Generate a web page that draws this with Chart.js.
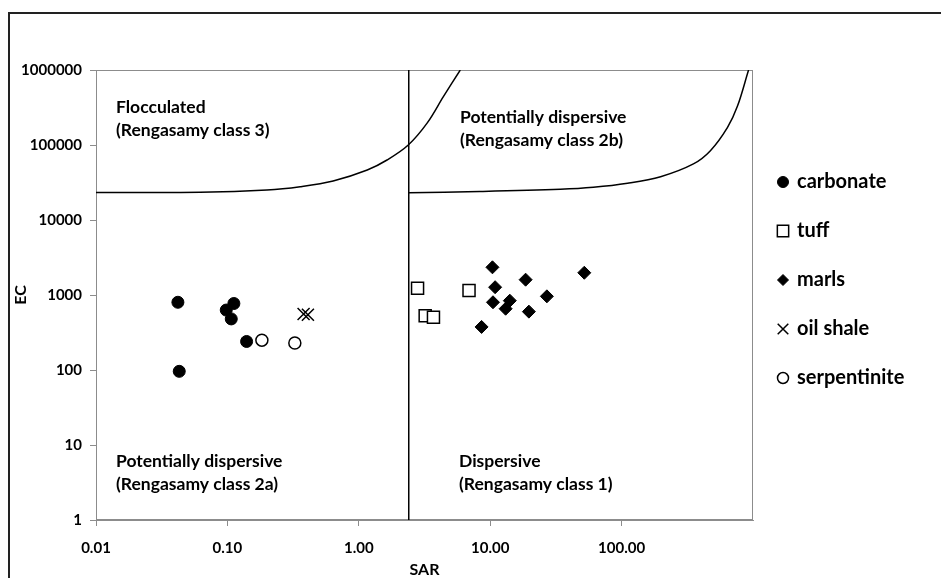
<!DOCTYPE html>
<html>
<head>
<meta charset="utf-8">
<title>EC vs SAR</title>
<script src="https://cdn.jsdelivr.net/npm/chart.js@4.4.1/dist/chart.umd.min.js"></script>
<style>
  body { margin: 0; background: #fff; }
  #wrap { position: relative; width: 941px; height: 578px; overflow: hidden; }
  #frame { position: absolute; left: 8px; top: 12px; width: 1000px; height: 700px;
           border-left: 2px solid #222; border-top: 2px solid #222; }
  canvas { position: absolute; left: 0; top: 0; }
</style>
</head>
<body>
<div id="wrap">
  <div id="frame"></div>
  <canvas id="chart" width="941" height="578"></canvas>
</div>
<script>
// Axis ticks
const xTicks = [0.01, 0.1, 1, 10, 100];
const xTickLabels = ['0.01', '0.10', '1.00', '10.00', '100.00'];
const yTicks = [1, 10, 100, 1000, 10000, 100000, 1000000];

// Samples (SAR, EC)
const carbonateSAR = [0.042, 0.112, 0.098, 0.107, 0.140, 0.043];
const carbonateEC = [800, 770, 630, 480, 240, 96];
const tuffSAR = [2.8, 6.9, 3.2, 3.7];
const tuffEC = [1230, 1150, 530, 505];
const marlsSAR = [10.4, 10.9, 18.6, 10.5, 14.1, 13.1, 19.7, 27.0, 8.6, 52.0];
const marlsEC = [2340, 1270, 1600, 800, 840, 656, 600, 960, 375, 1980];
const oilShaleSAR = [0.38, 0.41];
const oilShaleEC = [558, 546];
const serpentiniteSAR = [0.183, 0.326];
const serpentiniteEC = [250, 229];

// Class boundaries
const boundarySAR = 2.4;
const boundaryEC = [1, 1000000];
const leftCurveSAR = [0.01, 0.062, 0.2, 0.358, 0.638, 1.16, 1.64, 2.38, 3.32, 4.39, 5.92];
const leftCurveEC = [23300, 23400, 25100, 27800, 33100, 46400, 63100, 100000, 197000, 437000, 1000000];
const rightCurveSAR = [2.4, 8.3, 34.2, 61, 111, 198, 352, 474, 640, 762, 925];
const rightCurveEC = [23100, 24000, 25700, 27300, 30900, 37800, 56000, 84000, 172000, 330000, 1000000];

const regionLabels = [
  { lines: ['Flocculated', '(Rengasamy class 3)'], x: 116, y: 107 },
  { lines: ['Potentially dispersive', '(Rengasamy class 2b)'], x: 460, y: 117 },
  { lines: ['Potentially dispersive', '(Rengasamy class 2a)'], x: 116, y: 461 },
  { lines: ['Dispersive', '(Rengasamy class 1)'], x: 459, y: 461 }
];

const pts = (xs, ys) => xs.map((x, i) => ({ x: x, y: ys[i] }));

const markerSets = [
  { label: 'carbonate', data: pts(carbonateSAR, carbonateEC), pointStyle: 'circle', pointRadius: 6,
    backgroundColor: '#000', borderColor: '#000', borderWidth: 1, legendRadius: 5.5 },
  { label: 'tuff', data: pts(tuffSAR, tuffEC), pointStyle: 'rect', pointRadius: 8.5,
    backgroundColor: '#fff', borderColor: '#000', borderWidth: 1.5, legendRadius: 8 },
  { label: 'marls', data: pts(marlsSAR, marlsEC), pointStyle: 'rectRot', pointRadius: 6.5,
    backgroundColor: '#000', borderColor: '#000', borderWidth: 1, legendRadius: 5.5 },
  { label: 'oil shale', data: pts(oilShaleSAR, oilShaleEC), pointStyle: 'crossRot', pointRadius: 8.5,
    backgroundColor: '#000', borderColor: '#000', borderWidth: 1.5, legendRadius: 7.5 },
  { label: 'serpentinite', data: pts(serpentiniteSAR, serpentiniteEC), pointStyle: 'circle', pointRadius: 6,
    backgroundColor: '#fff', borderColor: '#000', borderWidth: 1.5, legendRadius: 5.5 }
];

const lineStyle = { showLine: true, pointRadius: 0, borderColor: '#000', borderWidth: 1.5,
  tension: 0.35, isBoundary: true };

const boundarySets = [
  Object.assign({ label: 'boundary', data: pts([boundarySAR, boundarySAR], boundaryEC) }, lineStyle),
  Object.assign({ label: 'left curve', data: pts(leftCurveSAR, leftCurveEC) }, lineStyle),
  Object.assign({ label: 'right curve', data: pts(rightCurveSAR, rightCurveEC) }, lineStyle)
];

const axisGray = '#8c8c8c';
const tickFont = { family: 'Lato', size: 15, weight: 'bold' };

// frame of the plot area + region names
const plotDecor = {
  id: 'plotDecor',
  beforeDatasetsDraw(chart) {
    const { ctx, chartArea: a } = chart;
    ctx.save();
    ctx.strokeStyle = axisGray;
    ctx.lineWidth = 1;
    ctx.strokeRect(a.left + 0.5, a.top + 0.5, a.right - a.left - 1, a.bottom - a.top - 1);
    ctx.fillStyle = '#000';
    ctx.font = 'bold 17.5px Lato';
    ctx.textBaseline = 'middle';
    regionLabels.forEach(r => {
      r.lines.forEach((t, i) => ctx.fillText(t, r.x, r.y + i * 23.5));
    });
    ctx.restore();
  }
};

// legend on the right, markers taken from the datasets
const sideLegend = {
  id: 'sideLegend',
  afterDraw(chart) {
    const ctx = chart.ctx;
    ctx.save();
    chart.data.datasets.filter(d => !d.isBoundary).forEach((d, i) => {
      const y = 182 + i * 49;
      ctx.fillStyle = d.backgroundColor;
      ctx.strokeStyle = d.borderColor;
      ctx.lineWidth = d.borderWidth;
      Chart.helpers.drawPoint(ctx, {
        pointStyle: d.pointStyle,
        radius: d.legendRadius,
        borderWidth: d.borderWidth,
        rotation: 0
      }, 783, y);
      ctx.fillStyle = '#000';
      ctx.font = 'bold 20px Lato';
      ctx.textBaseline = 'middle';
      ctx.fillText(d.label, 797, y);
    });
    ctx.restore();
  }
};

new Chart(document.getElementById('chart'), {
  type: 'scatter',
  data: { datasets: markerSets.concat(boundarySets) },
  options: {
    responsive: false,
    animation: false,
    layout: { padding: { top: 70, right: 188, left: 0, bottom: 0 } },
    plugins: { legend: { display: false }, tooltip: { enabled: false } },
    scales: {
      x: {
        type: 'logarithmic',
        min: 0.01,
        max: 1000,
        afterBuildTicks: s => { s.ticks = xTicks.map(v => ({ value: v })); },
        afterFit: s => { s.height = 58; },
        ticks: {
          color: '#000', font: tickFont, padding: 13, maxRotation: 0, autoSkip: false,
          callback: (v, i) => xTickLabels[i]
        },
        grid: { drawOnChartArea: false, color: axisGray, tickLength: 6 },
        border: { color: axisGray },
        title: { display: true, text: 'SAR', color: '#000',
          font: { family: 'Lato', size: 16, weight: 'bold', lineHeight: 1 }, padding: 0 }
      },
      y: {
        type: 'logarithmic',
        min: 1,
        max: 1000000,
        afterBuildTicks: s => { s.ticks = yTicks.map(v => ({ value: v })); },
        afterFit: s => { s.width = 96; },
        ticks: {
          color: '#000', font: tickFont, padding: 8, autoSkip: false,
          callback: v => String(v)
        },
        grid: { drawOnChartArea: false, color: axisGray, tickLength: 6 },
        border: { color: axisGray },
        title: { display: true, text: 'EC', color: '#000',
          font: { family: 'Lato', size: 16, weight: 'bold', lineHeight: 1.2 }, padding: { top: 11 } }
      }
    }
  },
  plugins: [plotDecor, sideLegend]
});
</script>
</body>
</html>
